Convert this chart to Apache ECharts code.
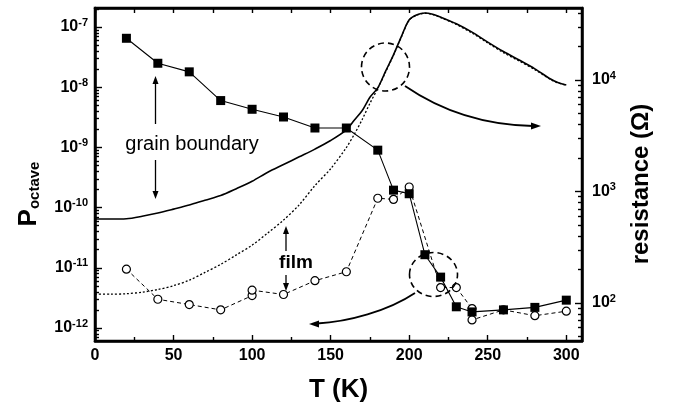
<!DOCTYPE html>
<html>
<head>
<meta charset="utf-8">
<script src="https://cdn.jsdelivr.net/npm/echarts@6/dist/echarts.min.js"></script>
<style>
  html, body { margin: 0; padding: 0; background: #fff; }
  #chart { width: 673px; height: 411px; }
  #log { position: absolute; left: 100px; top: 150px; width: 470px; font: 10px monospace; color: red; white-space: pre-wrap; }
</style>
</head>
<body>
<div id="chart"></div>
<div id="log"></div>
<script>
var logEl = document.getElementById('log');
function note(msg) { logEl.textContent += msg + '\n'; }
var oldErr = console.error, oldWarn = console.warn;
console.error = function () { note('E: ' + Array.prototype.join.call(arguments, ' ')); oldErr.apply(console, arguments); };
console.warn = function () { note('W: ' + Array.prototype.join.call(arguments, ' ')); oldWarn.apply(console, arguments); };
window.addEventListener('error', function (e) { note('X: ' + e.message); });

// temperature axis (K)
var tempTicks = [0, 50, 100, 150, 200, 250, 300];
var tempMinorTicks = [25, 75, 125, 175, 225, 275];

// noise power, grain boundary (filled squares)
var gbTemp = [20, 40, 60, 80, 100, 120, 140, 160, 180, 190, 200, 210, 220, 230, 240, 260, 280, 300];
var gbPower = [6.5e-8, 2.5e-8, 1.8e-8, 6.0e-9, 4.3e-9, 3.2e-9, 2.1e-9, 2.1e-9, 9.0e-10, 1.95e-10,
  1.7e-10, 1.65e-11, 7.0e-12, 2.25e-12, 1.85e-12, 2.0e-12, 2.2e-12, 2.9e-12];

// noise power, film (open circles)
var filmTemp = [20, 40, 60, 80, 100, 100, 120, 140, 160, 180, 190, 200, 220, 230, 240, 240, 260, 280, 300];
var filmPower = [9.5e-12, 3.0e-12, 2.45e-12, 2.0e-12, 3.45e-12, 4.25e-12, 3.6e-12, 6.1e-12, 8.6e-12,
  1.43e-10, 1.37e-10, 2.2e-10, 4.7e-12, 4.7e-12, 2.1e-12, 1.36e-12, 2.0e-12, 1.6e-12, 1.9e-12];

// resistance (right axis)
var resTemp = [0, 10, 20, 30, 40, 50, 60, 70, 80, 90, 100, 110, 120, 130, 140, 150, 160, 165, 170, 175,
  180, 185, 190, 195, 200, 205, 210, 215, 220, 230, 240, 250, 260, 270, 280, 290, 295, 300];
var resSolid = [566, 566, 570, 600, 642, 695, 755, 835, 920, 1060, 1235, 1490, 1745, 2046, 2400, 2864,
  3566, 4360, 5300, 7000, 8500, 12000, 16800, 24500, 34700, 38500, 39900, 38900, 36700, 32000, 26900,
  21900, 18000, 15100, 12600, 10200, 9440, 9020];
var resDotted = [120, 120, 121, 125, 132, 143, 160, 188, 222, 270, 330, 425, 554, 760, 1130, 1600,
  2480, 3250, 4400, 6180, 8400, 11800, 16700, 24300, 34400, 38200, 39700, 38600, 36300, 31500, 26400,
  21500, 17600, 14800, 12400, 10100, 9400, 8950];

// tick label exponents
var powerExps = [-12, -11, -10, -9, -8, -7];
var resExps = [2, 3, 4];

var FONT = 'Liberation Sans, Arial, sans-serif';

function pairs(xs, ys) {
  return xs.map(function (x, i) { return [x, ys[i]]; });
}
function decades(exps) {
  return exps.map(function (e) { return Math.pow(10, e); });
}
function minors(lo, hi, min, max) {
  var out = [];
  for (var e = lo; e <= hi; e++) {
    for (var m = 2; m <= 9; m++) {
      var v = m * Math.pow(10, e);
      if (v > min && v < max) out.push(v);
    }
  }
  return out;
}
function powLabel(v) {
  return '{b|10}{s|' + Math.round(Math.log10(v)) + '}';
}
function labelRich() {
  return {
    b: { fontSize: 16, fontWeight: 'bold', fontFamily: FONT, color: '#000', lineHeight: 16, verticalAlign: 'bottom' },
    s: { fontSize: 11, fontWeight: 'bold', fontFamily: FONT, color: '#000', lineHeight: 11, padding: [0, 0, 7, 0], verticalAlign: 'bottom' }
  };
}
function line(show) {
  return { show: show, onZero: false, lineStyle: { color: '#000', width: 2.5 } };
}
function ticks(values, len) {
  return { show: true, inside: true, length: len, lineStyle: { color: '#000', width: 1.4 }, customValues: values };
}

var myChart = echarts.init(document.getElementById('chart'));
try {
myChart.setOption({
  animation: false,
  backgroundColor: '#fff',
  grid: { left: 95, top: 8, width: 487, height: 333, show: true, borderColor: '#000', borderWidth: 2.5 },
  xAxis: [
    {
      type: 'value', min: 0, max: 310, position: 'bottom',
      axisLine: line(true), axisTick: ticks(tempTicks, 6),
      axisLabel: { customValues: tempTicks, margin: 7, fontSize: 16, fontWeight: 'bold', fontFamily: FONT, color: '#000' },
      splitLine: { show: false },
      name: 'T (K)', nameLocation: 'middle', nameGap: 36,
      nameTextStyle: { fontSize: 26, fontWeight: 'bold', fontFamily: FONT, color: '#000' }
    },
    {
      type: 'value', min: 0, max: 310, position: 'bottom',
      axisLine: line(false), axisTick: ticks(tempMinorTicks, 4),
      axisLabel: { show: false }, splitLine: { show: false }
    },
    {
      type: 'value', min: 0, max: 310, position: 'top',
      axisLine: line(true), axisTick: ticks(tempTicks.concat(tempMinorTicks), 5),
      axisLabel: { show: false }, splitLine: { show: false }
    }
  ],
  yAxis: [
    {
      type: 'log', min: 6.08e-13, max: 2.07e-7, position: 'left',
      axisLine: line(true), axisTick: ticks(decades(powerExps), 7),
      axisLabel: { customValues: decades(powerExps), margin: 7, formatter: powLabel, rich: labelRich() },
      splitLine: { show: false }
    },
    {
      type: 'log', min: 6.08e-13, max: 2.07e-7, position: 'left',
      axisLine: line(false), axisTick: ticks(minors(-13, -7, 6.08e-13, 2.07e-7), 4),
      axisLabel: { show: false }, splitLine: { show: false }
    },
    {
      type: 'log', min: 45.6, max: 44250, position: 'right',
      axisLine: line(true), axisTick: ticks(decades(resExps), 7),
      axisLabel: { customValues: decades(resExps), margin: 10, formatter: powLabel, rich: labelRich() },
      splitLine: { show: false }
    },
    {
      type: 'log', min: 45.6, max: 44250, position: 'right',
      axisLine: line(false), axisTick: ticks(minors(1, 4, 45.6, 44250), 4),
      axisLabel: { show: false }, splitLine: { show: false }
    }
  ],
  series: [
    {
      name: 'resistance film', type: 'line', xAxisIndex: 0, yAxisIndex: 2,
      data: pairs(resTemp, resDotted), showSymbol: false, smooth: 0.3,
      lineStyle: { color: '#000', width: 1.3, type: [2, 2] }
    },
    {
      name: 'resistance grain boundary', type: 'line', xAxisIndex: 0, yAxisIndex: 2,
      data: pairs(resTemp, resSolid), showSymbol: false, smooth: 0.3,
      lineStyle: { color: '#000', width: 1.6 }
    },
    {
      name: 'film', type: 'line', xAxisIndex: 0, yAxisIndex: 0,
      data: pairs(filmTemp, filmPower), symbol: 'circle', symbolSize: 8,
      itemStyle: { color: '#fff', borderColor: '#000', borderWidth: 1.2 },
      lineStyle: { color: '#000', width: 1, type: [4, 3] }
    },
    {
      name: 'grain boundary', type: 'line', xAxisIndex: 0, yAxisIndex: 0,
      data: pairs(gbTemp, gbPower), symbol: 'rect', symbolSize: 9,
      itemStyle: { color: '#000' },
      lineStyle: { color: '#000', width: 1.1 }
    }
  ],
  graphic: [
    {
      type: 'text', x: 29, y: 194, rotation: Math.PI / 2,
      style: {
        text: '{p|P}{s|octave}', align: 'center', verticalAlign: 'middle',
        rich: {
          p: { fontSize: 26, fontWeight: 'bold', fontFamily: FONT, fill: '#000', lineHeight: 26, verticalAlign: 'top' },
          s: { fontSize: 15, fontWeight: 'bold', fontFamily: FONT, fill: '#000', lineHeight: 15, padding: [19, 0, 0, 0], verticalAlign: 'bottom' }
        }
      }
    },
    { type: 'text', x: 641, y: 184, rotation: Math.PI / 2, style: { text: 'resistance (Ω)', font: 'bold 24px ' + FONT, fill: '#000', align: 'center', verticalAlign: 'middle' } },
    { type: 'ellipse', shape: { cx: 385.5, cy: 67, rx: 24, ry: 24 }, style: { fill: 'none', stroke: '#000', lineWidth: 1.6, lineDash: [6, 4] }, z: 10 },
    { type: 'ellipse', shape: { cx: 433.5, cy: 274.5, rx: 24, ry: 22 }, style: { fill: 'none', stroke: '#000', lineWidth: 1.6, lineDash: [6, 4] }, z: 10 },
    { type: 'bezierCurve', shape: { x1: 405, y1: 86, cpx1: 440, cpy1: 110, cpx2: 480, cpy2: 125, x2: 533, y2: 126 }, style: { fill: 'none', stroke: '#000', lineWidth: 1.8 }, z: 10 },
    { type: 'polygon', shape: { points: [[541, 126], [531, 122.5], [531, 129.5]] }, style: { fill: '#000' }, z: 10 },
    { type: 'bezierCurve', shape: { x1: 415, y1: 293, cpx1: 388, cpy1: 311, cpx2: 348, cpy2: 322, x2: 317, y2: 323.5 }, style: { fill: 'none', stroke: '#000', lineWidth: 1.8 }, z: 10 },
    { type: 'polygon', shape: { points: [[309, 324], [319, 320.5], [319, 327.5]] }, style: { fill: '#000' }, z: 10 },
    { type: 'line', shape: { x1: 155.5, y1: 81, x2: 155.5, y2: 124 }, style: { stroke: '#000', lineWidth: 1.3 }, z: 10 },
    { type: 'polygon', shape: { points: [[155.5, 76], [152.5, 84], [158.5, 84]] }, style: { fill: '#000' }, z: 10 },
    { type: 'line', shape: { x1: 155.5, y1: 160, x2: 155.5, y2: 194 }, style: { stroke: '#000', lineWidth: 1.3 }, z: 10 },
    { type: 'polygon', shape: { points: [[155.5, 199], [152.5, 191], [158.5, 191]] }, style: { fill: '#000' }, z: 10 },
    { type: 'text', x: 192, y: 144, style: { text: 'grain boundary', font: '20px ' + FONT, fill: '#000', align: 'center', verticalAlign: 'middle' }, z: 10 },
    { type: 'line', shape: { x1: 286, y1: 231, x2: 286, y2: 251 }, style: { stroke: '#000', lineWidth: 1.3 }, z: 10 },
    { type: 'polygon', shape: { points: [[286, 226], [283, 234], [289, 234]] }, style: { fill: '#000' }, z: 10 },
    { type: 'line', shape: { x1: 286, y1: 275, x2: 286, y2: 286 }, style: { stroke: '#000', lineWidth: 1.3 }, z: 10 },
    { type: 'polygon', shape: { points: [[286, 291], [283, 283], [289, 283]] }, style: { fill: '#000' }, z: 10 },
    { type: 'text', x: 296, y: 263, style: { text: 'film', font: 'bold 19px ' + FONT, fill: '#000', align: 'center', verticalAlign: 'middle' }, z: 10 }
  ]
});
} catch (err) { note('T: ' + err.message + '\n' + (err.stack || '').slice(0, 600)); }
</script>
</body>
</html>
